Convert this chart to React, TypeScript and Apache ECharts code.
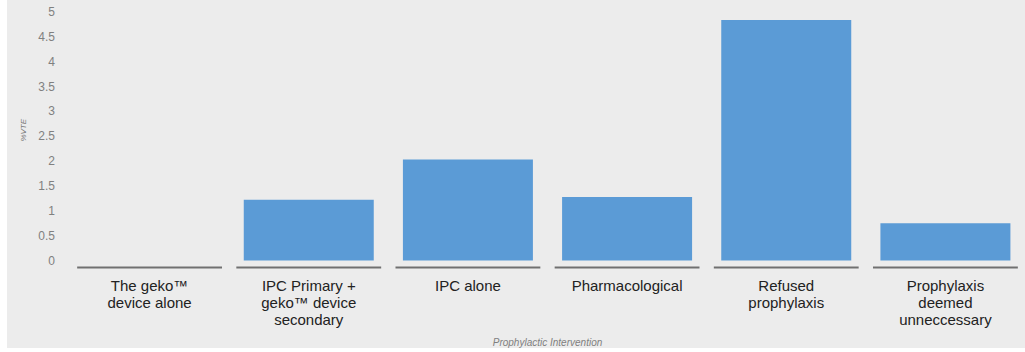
import { useEffect, useRef } from "react";
import * as echarts from "echarts";

const categories = [
  "The geko™\ndevice alone",
  "IPC Primary +\ngeko™ device\nsecondary",
  "IPC alone",
  "Pharmacological",
  "Refused\nprophylaxis",
  "Prophylaxis\ndeemed\nunneccessary",
];
const vtePercent = [0, 1.22, 2.03, 1.28, 4.84, 0.75];
const yMin = 0;
const yMax = 5;
const yStep = 0.5;
const yName = "%VTE";
const xName = "Prophylactic Intervention";

export default function App() {
  const ref = useRef<HTMLDivElement>(null);
  useEffect(() => {
    const chart = echarts.init(ref.current!, null, { renderer: "svg" });
    chart.setOption({
      animation: false,
      backgroundColor: "#ececec",
      textStyle: { fontFamily: "Liberation Sans, Arial, sans-serif" },
      grid: { left: 63, right: 0, top: 12, bottom: 87.5, outerBoundsMode: "none", containLabel: false },
      xAxis: {
        type: "category",
        data: categories,
        name: xName,
        nameLocation: "middle",
        nameGap: 76.5,
        nameTextStyle: { fontSize: 10, fontStyle: "italic", color: "#808080" },
        axisLine: { show: false },
        axisTick: { show: false },
        axisLabel: {
          interval: 0,
          margin: 16,
          fontSize: 15,
          lineHeight: 17,
          color: "#222222",
        },
      },
      yAxis: {
        type: "value",
        min: yMin,
        max: yMax,
        interval: yStep,
        name: yName,
        nameLocation: "middle",
        nameRotate: 90,
        nameGap: 41,
        nameTextStyle: { fontSize: 8, fontStyle: "italic", color: "#777777", padding: [0, 0, 0, 12] },
        axisLine: { show: false },
        axisTick: { show: false },
        splitLine: { show: false },
        axisLabel: { fontSize: 12, color: "#808080", margin: 15 },
      },
      series: [
        {
          type: "bar",
          data: vtePercent,
          barWidth: 130,
          itemStyle: { color: "#5b9bd6" },
          silent: true,
        },
        {
          type: "custom",
          clip: false,
          silent: true,
          data: categories.map((_, i) => [i, 0]),
          encode: { x: 0, y: 1 },
          renderItem: (params: any, api: any) => {
            const c = api.coord([api.value(0), 0]);
            const w = api.size([1, 0])[0] * 0.91;
            return {
              type: "line",
              shape: { x1: c[0] - w / 2, y1: c[1] + 7, x2: c[0] + w / 2, y2: c[1] + 7 },
              style: { stroke: "#707070", lineWidth: 2 },
            };
          },
        },
      ],
    });
    return () => chart.dispose();
  }, []);
  return (
    <div
      ref={ref}
      style={{ position: "absolute", left: 7, top: 0, width: 1018, height: 348, background: "#ececec" }}
    />
  );
}
